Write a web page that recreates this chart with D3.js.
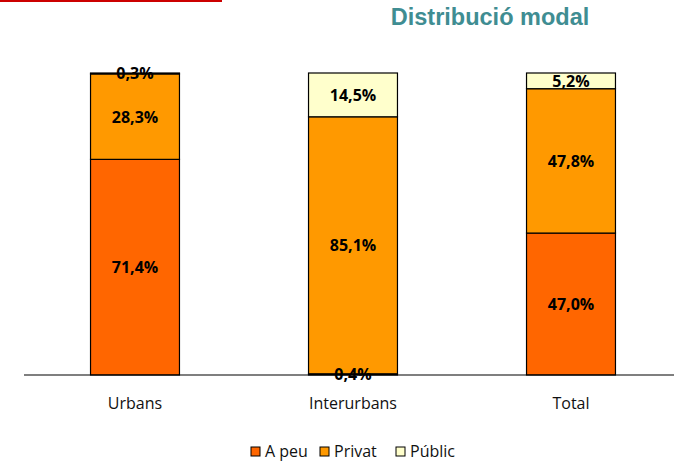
<!DOCTYPE html>
<html>
<head>
<meta charset="utf-8">
<title>Distribució modal</title>
<script src="https://d3js.org/d3.v7.min.js"></script>
<style>
  body { margin: 0; background: #fff; }
  svg text { font-family: "Open Sans", "Liberation Sans", sans-serif; }
</style>
</head>
<body>
<div id="chart"></div>
<script>
// data
var categories = ["Urbans", "Interurbans", "Total"];
var series = ["A peu", "Privat", "Públic"];
var aPeu   = [71.4, 0.4, 47.0];
var privat = [28.3, 85.1, 47.8];
var public_ = [0.3, 14.5, 5.2];
var colors = ["#ff6600", "#ff9900", "#ffffcc"];

var width = 674, height = 465;

var svg = d3.select("#chart")
  .append("svg")
    .attr("width", width)
    .attr("height", height);

// red rule at the top left
svg.append("rect")
  .attr("x", 0).attr("y", 0)
  .attr("width", 222).attr("height", 2)
  .attr("fill", "#cc0000");

// title
svg.append("text")
  .attr("x", 490)
  .attr("y", 25)
  .attr("text-anchor", "middle")
  .style("font-family", "'Liberation Sans', Arial, sans-serif")
  .style("font-weight", "bold")
  .style("font-size", "23.5px")
  .attr("fill", "#3f8d92")
  .text("Distribució modal");

var x = d3.scaleBand()
  .domain(categories)
  .range([26, 680])
  .paddingInner(0.592)
  .paddingOuter(0.296);

var y = d3.scaleLinear()
  .domain([0, 100])
  .range([375, 73]);

// build the stack table
var rows = categories.map(function(c, i) {
  return { cat: c, "A peu": aPeu[i], "Privat": privat[i], "Públic": public_[i] };
});
var stacked = d3.stack().keys(series)(rows);

var color = d3.scaleOrdinal().domain(series).range(colors);

var layers = svg.selectAll(".layer")
  .data(stacked)
  .enter().append("g")
    .attr("class", "layer")
    .attr("fill", function(d) { return color(d.key); });

layers.selectAll("rect")
  .data(function(d) { return d; })
  .enter().append("rect")
    .attr("x", function(d) { return x(d.data.cat); })
    .attr("y", function(d) { return y(d[1]); })
    .attr("width", x.bandwidth())
    .attr("height", function(d) { return y(d[0]) - y(d[1]); })
    .attr("stroke", "#000")
    .attr("stroke-width", 1.2);

// x axis
var xAxis = svg.append("g")
  .attr("transform", "translate(0,375)")
  .call(d3.axisBottom(x).tickSize(0));
xAxis.select(".domain")
  .attr("d", "M24,0H674")
  .attr("stroke", "#000")
  .attr("stroke-width", 1.2);
xAxis.selectAll(".tick text")
  .attr("y", 34)
  .attr("dy", 0)
  .style("font-family", "'Open Sans', sans-serif")
  .style("font-size", "16px")
  .attr("fill", "#111");

// value labels, on top of every bar
var labels = svg.append("g");
stacked.forEach(function(layer) {
  labels.selectAll(null)
    .data(layer)
    .enter().append("text")
      .attr("x", function(d) { return x(d.data.cat) + x.bandwidth() / 2; })
      .attr("y", function(d) { return (y(d[0]) + y(d[1])) / 2 + 6; })
      .attr("text-anchor", "middle")
      .style("font-weight", "bold")
      .style("font-size", "16px")
      .attr("fill", "#000")
      .text(function(d) { return d3.format(".1f")(d[1] - d[0]).replace(".", ",") + "%"; });
});

// legend
var legendX = [251, 320, 396];
var legend = svg.selectAll(".legend")
  .data(series)
  .enter().append("g")
    .attr("class", "legend")
    .attr("transform", function(d, i) { return "translate(" + legendX[i] + ",447)"; });

legend.append("rect")
  .attr("width", 9)
  .attr("height", 9)
  .attr("fill", function(d) { return color(d); })
  .attr("stroke", "#000")
  .attr("stroke-width", 1);

legend.append("text")
  .attr("x", 14)
  .attr("y", 10)
  .style("font-size", "16px")
  .attr("fill", "#111")
  .text(function(d) { return d; });
</script>
</body>
</html>
